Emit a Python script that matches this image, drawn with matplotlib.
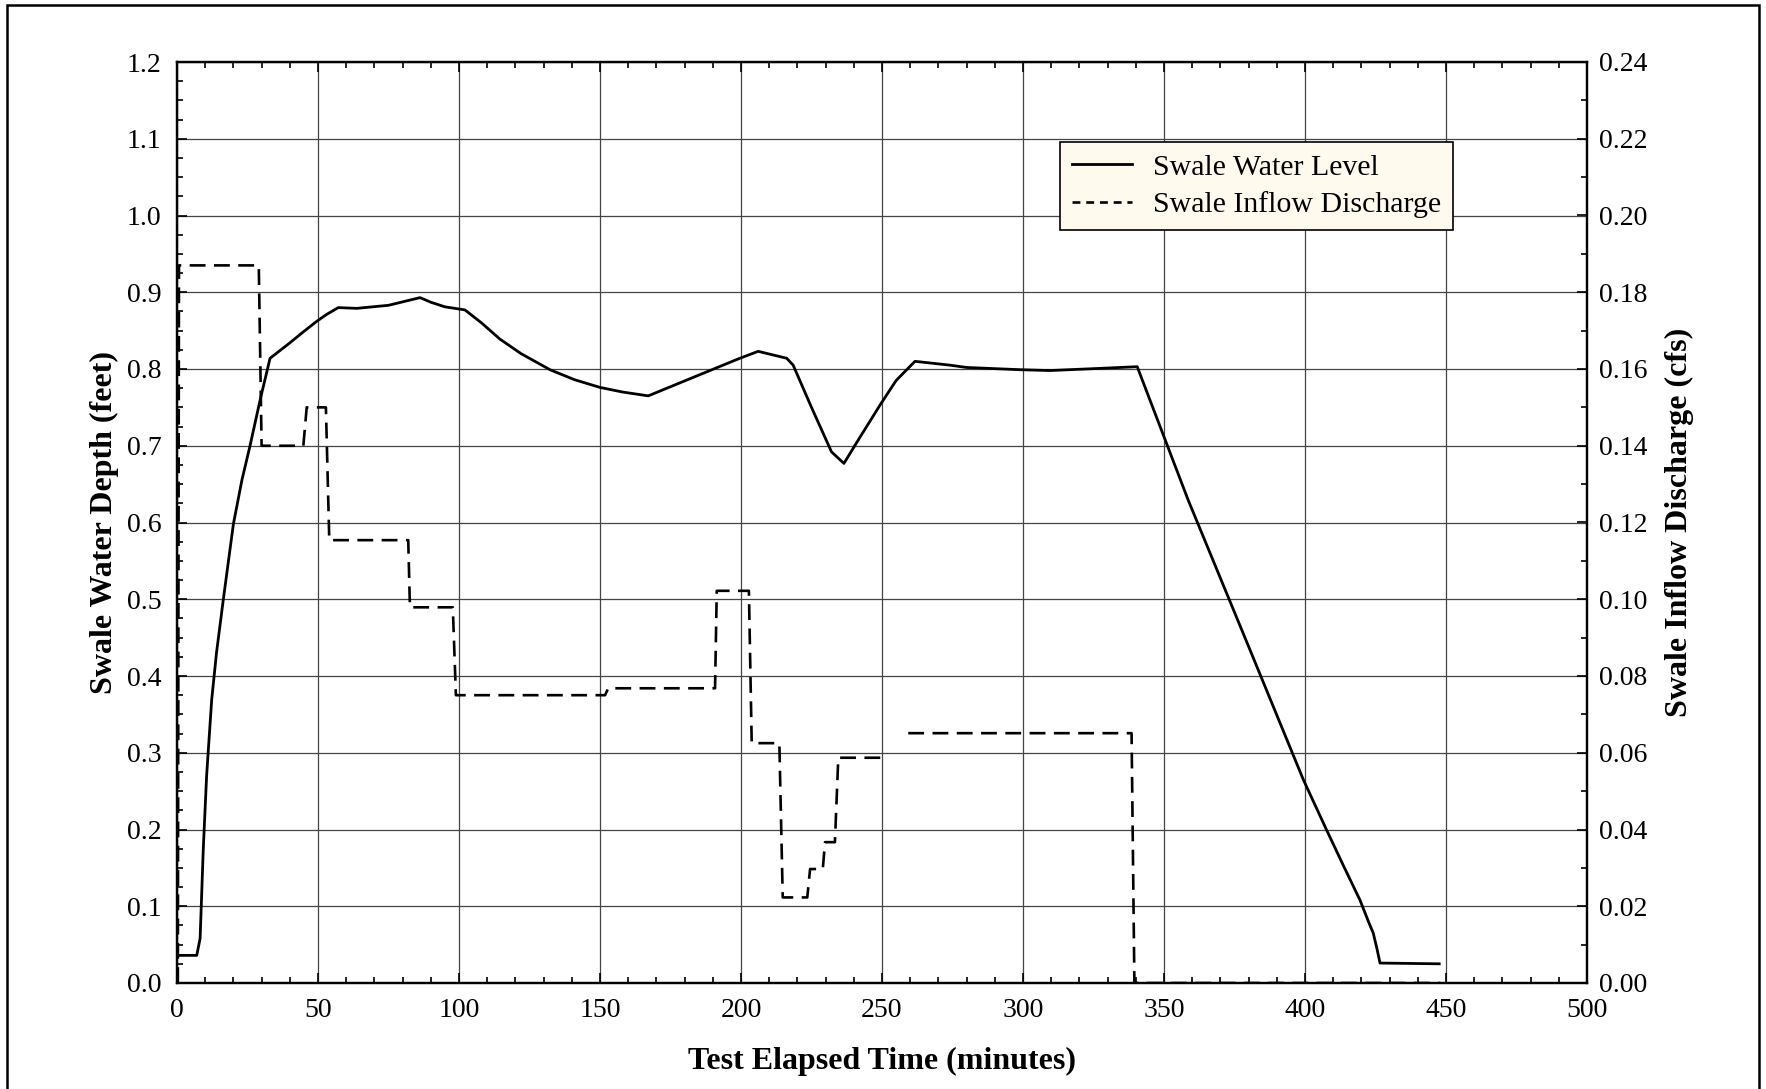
import numpy as np
import matplotlib
matplotlib.use("Agg")
import matplotlib.pyplot as plt
from matplotlib.ticker import MultipleLocator, FormatStrFormatter
from matplotlib.patches import Rectangle
from matplotlib.lines import Line2D

# Swale water level (feet) vs time (minutes)
level_t = [0, 7.0, 8.2, 9.3, 10.5, 12.3, 14.0, 16.4, 20.0, 23.0, 25.9, 29.5, 33.0, 40.0, 45.0,
           49.5, 53.0, 57.2, 63.7, 75.0, 86.2, 90.0, 95.0, 102.1, 108.0, 114.5, 122.0, 132.3,
           141.0, 150.0, 158.0, 167.1, 199.6, 206.1, 216.2, 218.5, 225.0, 232.1, 236.5, 242.0,
           249.3, 255.0, 261.7, 274.1, 280.0, 299.5, 309.6, 328.5, 340.5, 358.6, 380.5, 399.4,
           407.7, 414.0, 419.5, 422.5, 424.2, 425.5, 426.6, 447.6]
level_ft = [0.036, 0.036, 0.058, 0.173, 0.270, 0.369, 0.430, 0.499, 0.598, 0.655, 0.700, 0.760,
            0.814, 0.834, 0.849, 0.862, 0.871, 0.880, 0.879, 0.883, 0.893, 0.887, 0.881, 0.877,
            0.860, 0.839, 0.820, 0.799, 0.786, 0.776, 0.770, 0.765, 0.814, 0.823, 0.814, 0.805,
            0.750, 0.692, 0.677, 0.710, 0.753, 0.785, 0.810, 0.805, 0.802, 0.799, 0.798, 0.801,
            0.803, 0.629, 0.434, 0.265, 0.199, 0.150, 0.108, 0.080, 0.065, 0.045, 0.026, 0.025]

# Swale inflow discharge (cfs) vs time (minutes); NaN = gap in record
flow_t = [0.3, 0.7, 29.0, 30.0, 44.8, 46.0, 52.8, 54.0, 82.0, 82.6, 97.8, 98.9, 151.8, 152.9,
          190.8, 191.4, 202.8, 203.8, 213.6, 214.8, 223.5, 224.5, 229.0, 229.8, 233.3, 234.5,
          251.1, 255.0, 259.3, 338.5, 339.5, 448.0]
flow_cfs = [0.0, 0.187, 0.187, 0.140, 0.140, 0.150, 0.150, 0.1154, 0.1154, 0.0979, 0.0979, 0.075,
            0.075, 0.0768, 0.0768, 0.1022, 0.1022, 0.0625, 0.0625, 0.0223, 0.0223, 0.0297, 0.0297,
            0.0367, 0.0367, 0.0587, 0.0587, np.nan, 0.0651, 0.0651, 0.0, 0.0]

plt.rcParams['font.family'] = ['Liberation Serif', 'DejaVu Serif']

W, H = 1766, 1089
fig = plt.figure(figsize=(W / 100, H / 100), dpi=100)
ax = fig.add_axes([177 / W, 1 - 983 / H, (1587 - 177) / W, (983 - 62) / H])
ax2 = ax.twinx()

ax.plot(level_t, level_ft, color='black', lw=2.0)
ax2.plot(flow_t, flow_cfs, color='black', lw=1.9, linestyle=(0, (6.0, 3.2)))

ax.set_xlim(0, 500)
ax.set_ylim(0, 1.2)
ax2.set_ylim(0, 0.24)

ax.xaxis.set_major_locator(MultipleLocator(50))
ax.xaxis.set_minor_locator(MultipleLocator(10))
ax.yaxis.set_major_locator(MultipleLocator(0.1))
ax.yaxis.set_minor_locator(MultipleLocator(0.025))
ax2.yaxis.set_major_locator(MultipleLocator(0.02))
ax2.yaxis.set_minor_locator(MultipleLocator(0.01))
ax.yaxis.set_major_formatter(FormatStrFormatter('%.1f'))
ax2.yaxis.set_major_formatter(FormatStrFormatter('%.2f'))

ax.grid(True, which='major', color='#444444', lw=0.9)
ax.set_axisbelow(True)

ax.tick_params(axis='both', which='both', direction='in', top=True, right=False,
               labelsize=20, width=1.2)
ax.tick_params(axis='x', which='major', length=7, pad=11)
ax.tick_params(axis='y', which='major', length=7, pad=11)
ax.tick_params(axis='both', which='minor', length=4)
ax2.tick_params(axis='y', which='both', direction='in', labelsize=20, width=1.2)
ax2.tick_params(axis='y', which='major', length=7, pad=9)
ax2.tick_params(axis='y', which='minor', length=4)

for a in (ax, ax2):
    for s in a.spines.values():
        s.set_linewidth(1.6)

ax.set_xlabel('Test Elapsed Time (minutes)', fontsize=23, fontweight='bold', labelpad=17)
ax.set_ylabel('Swale Water Depth (feet)', fontsize=23, fontweight='bold', labelpad=6)
ax2.set_ylabel('Swale Inflow Discharge (cfs)', fontsize=23, fontweight='bold', labelpad=12)

handles = [Line2D([], [], color='black', lw=2.0),
           Line2D([], [], color='black', lw=1.9, linestyle=(0, (3.0, 2.2)))]
leg = fig.legend(handles, ['Swale Water Level', 'Swale Inflow Discharge'],
                 loc='upper left', bbox_to_anchor=(1060 / W, 1 - 142 / H),
                 fontsize=21.5, frameon=True, fancybox=False, handlelength=2.0,
                 borderpad=0.4, labelspacing=0.35, handletextpad=0.7, borderaxespad=0)
leg.get_frame().set_facecolor('#fff9ee')
leg.get_frame().set_edgecolor('black')
leg.get_frame().set_linewidth(1.2)
leg.get_frame().set_alpha(1)

# outer figure frame
fig.add_artist(Rectangle((7 / W, -0.01), (1759 - 7) / W, 1 - 5 / H + 0.01,
                         transform=fig.transFigure, fill=False, edgecolor='black', lw=1.8))

fig.savefig('out.png', dpi=100)
